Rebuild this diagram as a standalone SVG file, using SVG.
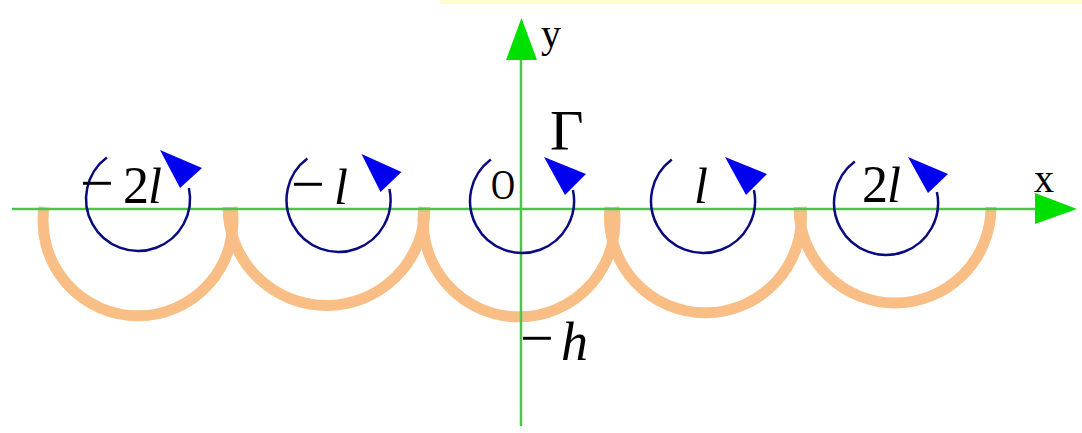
<svg xmlns="http://www.w3.org/2000/svg" width="1082" height="433" viewBox="0 0 1082 433">
<style>
.arc{fill:none;stroke:#F8BE86;stroke-width:11}
.circ{fill:none;stroke:#0A0A80;stroke-width:2.5}
.head{fill:#0000EE}
.axis{stroke:#4EC44E;stroke-width:2.5;fill:none}
.ahead{fill:#00E000}
.t{font-family:"Liberation Serif","Times New Roman",serif;fill:#000}
.it{font-style:italic}
.m{font-size:60px}
</style>
<rect x="0" y="0" width="1082" height="433" fill="#FFFFFF"/>
<rect x="440" y="0" width="642" height="4" fill="#FFFCD2"/>
<g id="orange-arcs">
<path class="arc" d="M44 207 A95 95 0 1 0 232 207"/>
<path class="arc" d="M228 207 A97 97 0 1 0 425 207"/>
<path class="arc" d="M424 207 A96 96 0 1 0 614 207"/>
<path class="arc" d="M610 207 A96 96 0 1 0 801 207"/>
<path class="arc" d="M799 207 A96 96 0 1 0 991 207"/>
</g>
<g id="axes">
<line class="axis" x1="12" y1="209" x2="1040" y2="209"/>
<polygon class="ahead" points="1035,193 1077,209 1035,224"/>
<line class="axis" x1="521" y1="426" x2="521" y2="55"/>
<polygon class="ahead" points="506,60 521.5,18 537,60"/>
<text class="t" x="1034" y="192" font-size="40">x</text>
<text class="t" x="541" y="47" font-size="40">y</text>
</g>
<g id="vortex-m2l">
<path class="circ" d="M106.8 157.4 A52 52 0 1 0 188.9 188.1"/>
<polygon class="head" points="160,150 202,168 180,188"/>
<text class="t m" x="80" y="203">−</text>
<text class="t" x="123" y="203" font-size="52">2</text>
<text class="t it" x="148" y="203" font-size="50">l</text>
</g>
<g id="vortex-ml">
<path class="circ" d="M307.3 158.4 A52 52 0 1 0 389.4 189.1"/>
<polygon class="head" points="361.5,154 401.5,172 380.5,192"/>
<text class="t m" x="291" y="204">−</text>
<text class="t it" x="334" y="204" font-size="50">l</text>
</g>
<g id="vortex-o">
<path class="circ" d="M490.8 159.4 A52 52 0 1 0 572.9 190.1"/>
<polygon class="head" points="544,157 586,174 565,195"/>
<text class="t" x="491" y="199" font-size="42" textLength="24" lengthAdjust="spacingAndGlyphs">O</text>
<text class="t" x="550" y="150" font-size="58">Γ</text>
</g>
<g id="vortex-l">
<path class="circ" d="M671.8 159.4 A52 52 0 1 0 753.9 190.1"/>
<polygon class="head" points="725,157 767,174 746,195"/>
<text class="t it" x="694" y="203" font-size="50">l</text>
</g>
<g id="vortex-2l">
<path class="circ" d="M854.8 161.4 A52 52 0 1 0 936.9 192.1"/>
<polygon class="head" points="908,157 948,174 928,193"/>
<text class="t" x="862" y="202" font-size="52">2</text>
<text class="t it" x="887" y="202" font-size="50">l</text>
</g>
<g id="label-h">
<text class="t m" x="520" y="358">−</text>
<text class="t it" x="561" y="360" font-size="54">h</text>
</g>
</svg>
